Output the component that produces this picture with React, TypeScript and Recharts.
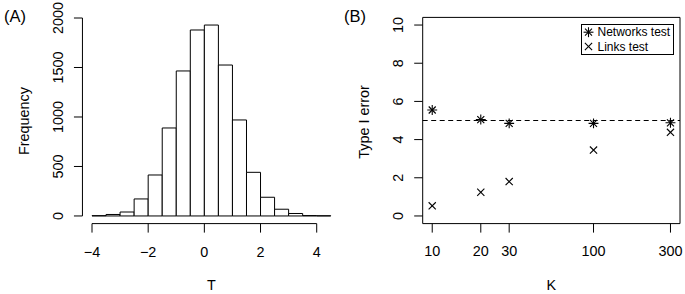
import React from "react";
import {
  ComposedChart,
  Legend,
  Line,
  ReferenceArea,
  ReferenceLine,
  Scatter,
  XAxis,
  YAxis,
} from "recharts";

// (A) histogram of T
const binStarts = [-4, -3.5, -3, -2.5, -2, -1.5, -1, -0.5, 0, 0.5, 1, 1.5, 2, 2.5, 3, 3.5, 4];
const binCounts = [3, 15, 40, 172, 414, 889, 1465, 1879, 1929, 1525, 970, 441, 189, 68, 25, 4, 2];
const binWidth = 0.5;
const tTicks = [-4, -2, 0, 2, 4];
const freqTicks = [0, 500, 1000, 1500, 2000];

// (B) type I error against K
const kValues = [10, 20, 30, 100, 300];
const networksError = [5.55, 5.05, 4.85, 4.85, 4.88];
const linksError = [0.53, 1.24, 1.8, 3.45, 4.38];
const errorTicks = [0, 2, 4, 6, 8, 10];
const nominalLevel = 5;

const FONT = '"Liberation Sans", Arial, Helvetica, sans-serif';
const FS = 14.4;

// R pads the data range by 4% on each side
const pad = (lo: number, hi: number): [number, number] => {
  const d = (hi - lo) * 0.04;
  return [lo - d, hi + d];
};

const bins = binStarts.map((lo, i) => ({ lo, hi: lo + binWidth, mid: lo + binWidth / 2, count: binCounts[i] }));
const tDomain = pad(binStarts[0], binStarts[binStarts.length - 1] + binWidth);
const freqDomain = pad(0, Math.max(...binCounts));

const logK = kValues.map(Math.log10);
const [lkLo, lkHi] = pad(Math.min(...logK), Math.max(...logK));
const kDomain: [number, number] = [10 ** lkLo, 10 ** lkHi];
const errDomain = pad(0, 10);

const networksData = kValues.map((k, i) => ({ k, v: networksError[i] }));
const linksData = kValues.map((k, i) => ({ k, v: linksError[i] }));

const tickStyle = { fill: "#000", fontSize: FS, fontFamily: FONT };
const minus = (v: number) => (v < 0 ? `\u2212${-v}` : `${v}`);

function RotatedTick(props: any) {
  const { x, y, payload } = props;
  return (
    <text x={x} y={y} transform={`rotate(-90 ${x} ${y})`} textAnchor="middle" fontSize={FS} fontFamily={FONT} fill="#000">
      {payload.value}
    </text>
  );
}

function Asterisk({ cx, cy }: any) {
  const a = 3.5;
  const b = a * Math.SQRT2;
  return (
    <g stroke="#000" strokeWidth={1.1}>
      <line x1={cx - a} y1={cy - a} x2={cx + a} y2={cy + a} />
      <line x1={cx - a} y1={cy + a} x2={cx + a} y2={cy - a} />
      <line x1={cx - b} y1={cy} x2={cx + b} y2={cy} />
      <line x1={cx} y1={cy - b} x2={cx} y2={cy + b} />
    </g>
  );
}

function Cross({ cx, cy }: any) {
  const a = 3.6;
  return (
    <g stroke="#000" strokeWidth={1.1}>
      <line x1={cx - a} y1={cy - a} x2={cx + a} y2={cy + a} />
      <line x1={cx - a} y1={cy + a} x2={cx + a} y2={cy - a} />
    </g>
  );
}

function LegendBox() {
  return (
    <svg width={93} height={31} style={{ display: "block" }}>
      <rect x={0.5} y={0.5} width={92} height={30} fill="#fff" stroke="#000" />
      <Asterisk cx={7.5} cy={8.2} />
      <Cross cx={7.5} cy={22.5} />
      <text x={16.5} y={12.4} fontSize={12} fontFamily={FONT} fill="#000">Networks test</text>
      <text x={16.5} y={26.8} fontSize={12} fontFamily={FONT} fill="#000">Links test</text>
    </svg>
  );
}

function Histogram() {
  return (
    <ComposedChart width={345} height={294} data={bins} margin={{ top: 17.4, right: 4.7, bottom: 30.4, left: 22.45 }}>
      <XAxis
        type="number"
        dataKey="mid"
        domain={tDomain}
        ticks={tTicks}
        interval={0}
        allowDataOverflow
        axisLine={false}
        tickLine={{ stroke: "#000" }}
        tickSize={9}
        tickMargin={14}
        height={40}
        tick={tickStyle}
        tickFormatter={minus}
      />
      <YAxis
        type="number"
        domain={freqDomain}
        ticks={freqTicks}
        interval={0}
        allowDataOverflow
        axisLine={false}
        tickLine={{ stroke: "#000" }}
        tickSize={8.5}
        tickMargin={11}
        width={60}
        tick={<RotatedTick />}
      />
      {bins.map((b) => (
        <ReferenceArea
          key={b.lo}
          x1={b.lo}
          x2={b.hi}
          y1={0}
          y2={b.count}
          fill="#fff"
          fillOpacity={1}
          stroke="#000"
          strokeWidth={1}
          ifOverflow="visible"
        />
      ))}
      <ReferenceLine
        segment={[{ x: tTicks[0], y: freqDomain[0] }, { x: tTicks[tTicks.length - 1], y: freqDomain[0] }]}
        stroke="#000"
        ifOverflow="visible"
      />
      <ReferenceLine
        segment={[{ x: tDomain[0], y: freqTicks[0] }, { x: tDomain[0], y: freqTicks[freqTicks.length - 1] }]}
        stroke="#000"
        ifOverflow="visible"
      />
      <Line dataKey="count" stroke="none" dot={false} activeDot={false} isAnimationActive={false} />
    </ComposedChart>
  );
}

function ErrorPlot() {
  return (
    <ComposedChart width={340} height={294} margin={{ top: 17.4, right: 5, bottom: 30.4, left: 17.7 }}>
      <XAxis
        type="number"
        dataKey="k"
        scale="log"
        domain={kDomain}
        ticks={kValues}
        interval={0}
        allowDataOverflow
        axisLine={false}
        tickLine={{ stroke: "#000" }}
        tickSize={9}
        tickMargin={13.5}
        height={40}
        tick={tickStyle}
      />
      <YAxis
        type="number"
        dataKey="v"
        domain={errDomain}
        ticks={errorTicks}
        interval={0}
        allowDataOverflow
        axisLine={false}
        tickLine={{ stroke: "#000" }}
        tickSize={8.5}
        tickMargin={11}
        width={60}
        tick={<RotatedTick />}
      />
      <ReferenceArea
        x1={kDomain[0]}
        x2={kDomain[1]}
        y1={errDomain[0]}
        y2={errDomain[1]}
        fill="none"
        stroke="#000"
        strokeWidth={1}
        ifOverflow="visible"
      />
      <ReferenceLine y={nominalLevel} stroke="#000" strokeDasharray="5 3.5" />
      <Scatter data={networksData} shape={<Asterisk />} isAnimationActive={false} />
      <Scatter data={linksData} shape={<Cross />} isAnimationActive={false} />
      <Legend
        layout="vertical"
        align="center"
        verticalAlign="middle"
        content={() => <LegendBox />}
        wrapperStyle={{ left: 236, top: 24, width: "auto", height: "auto" }}
      />
    </ComposedChart>
  );
}

export default function App() {
  return (
    <div style={{ position: "absolute", left: 0, top: 0, width: 685, height: 294, background: "#fff", fontFamily: FONT }}>
      <div style={{ position: "absolute", left: 0, top: 0 }}>
        <Histogram />
      </div>
      <div style={{ position: "absolute", left: 345, top: 0 }}>
        <ErrorPlot />
      </div>
      <svg width={685} height={294} style={{ position: "absolute", left: 0, top: 0, pointerEvents: "none" }}>
        <g fontFamily={FONT} fill="#000">
          <text x={4} y={22} fontSize={16.5}>(A)</text>
          <text x={344} y={22} fontSize={16.5}>(B)</text>
          <text x={28.7} y={121} fontSize={FS} textAnchor="middle" transform="rotate(-90 28.7 121)">Frequency</text>
          <text x={368.7} y={122} fontSize={FS} textAnchor="middle" transform="rotate(-90 368.7 122)">Type I error</text>
          <text x={211.4} y={290} fontSize={FS} textAnchor="middle">T</text>
          <text x={551.4} y={290} fontSize={FS} textAnchor="middle">K</text>
        </g>
      </svg>
    </div>
  );
}
